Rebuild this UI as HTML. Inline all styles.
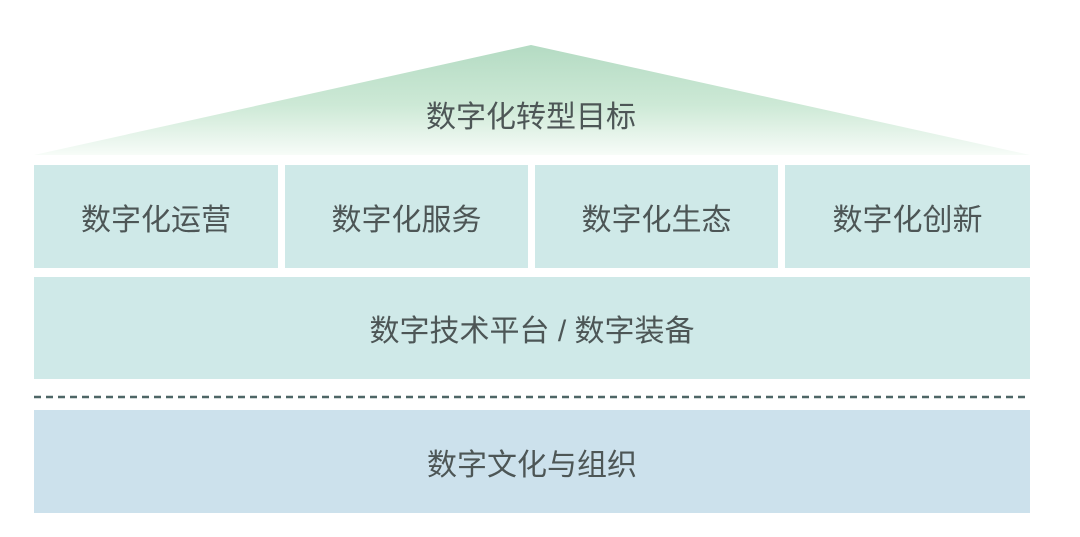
<!DOCTYPE html>
<html><head><meta charset="utf-8"><style>
body{margin:0;width:1080px;height:537px;background:#fff;position:relative;overflow:hidden;font-family:"Liberation Sans","Noto Sans CJK SC",sans-serif;color:#4d5656}
.b{position:absolute;display:flex;align-items:center;justify-content:center;font-size:30px;background:#cfe9e8}
</style></head><body>
<svg width="1080" height="537" style="position:absolute;left:0;top:0">
<defs><linearGradient id="g" x1="0" y1="0" x2="0" y2="1">
<stop offset="0" stop-color="#b4dbc3"/><stop offset="0.55" stop-color="#cde9d6"/><stop offset="1" stop-color="#f7fcf8"/></linearGradient></defs>
<polygon points="531,45 1030,155 34,155" fill="url(#g)"/>
<line x1="34" y1="397" x2="1030" y2="397" stroke="#4e6666" stroke-width="2.5" stroke-dasharray="7,5"/>
<text x="531" y="127" text-anchor="middle" font-size="30" fill="#4d5656" font-family="Liberation Sans, Noto Sans CJK SC, sans-serif">数字化转型目标</text>
</svg>
<div class="b" style="left:34px;top:165px;width:244px;height:103px">数字化运营</div>
<div class="b" style="left:285px;top:165px;width:243px;height:103px">数字化服务</div>
<div class="b" style="left:535px;top:165px;width:243px;height:103px">数字化生态</div>
<div class="b" style="left:785px;top:165px;width:245px;height:103px">数字化创新</div>
<div class="b" style="left:34px;top:277px;width:996px;height:102px">数字技术平台 / 数字装备</div>
<div class="b" style="left:34px;top:410px;width:996px;height:103px;background:#cce1ec">数字文化与组织</div>
</body></html>
